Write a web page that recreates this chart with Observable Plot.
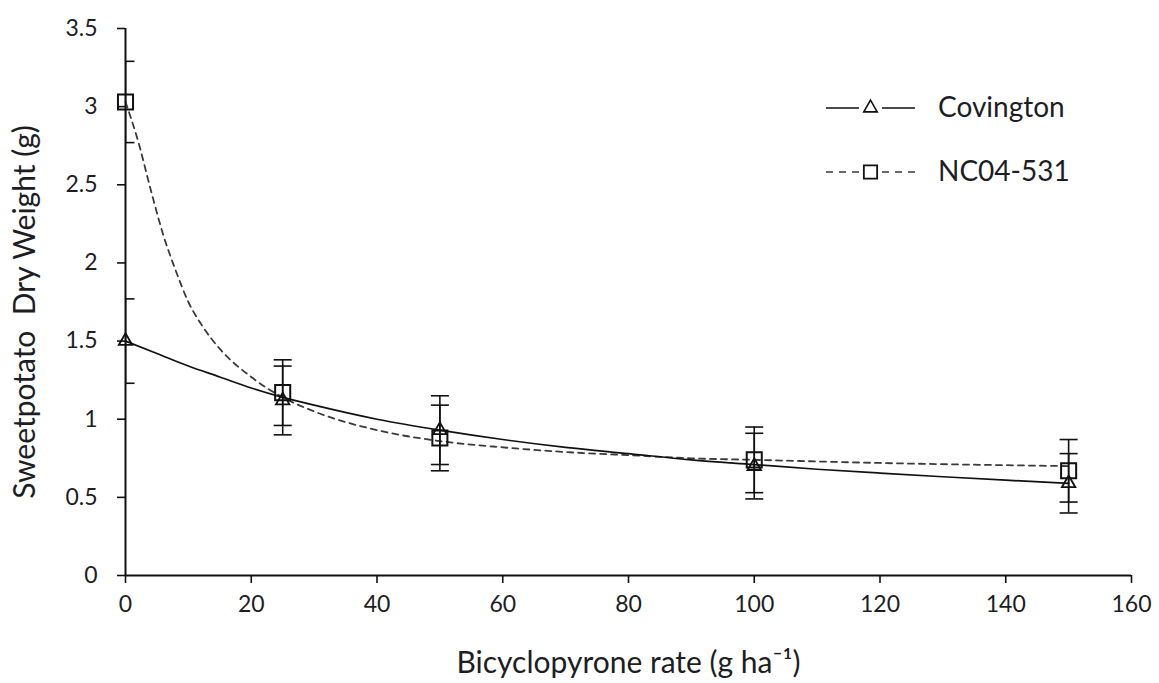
<!DOCTYPE html>
<html>
<head>
<meta charset="utf-8">
<script src="https://cdn.jsdelivr.net/npm/d3@7"></script>
<script src="https://cdn.jsdelivr.net/npm/@observablehq/plot@0.6"></script>
<style>
  html, body { margin: 0; padding: 0; background: #fff; }
  #wrap { position: relative; width: 1159px; height: 683px; }
  #legend { position: absolute; left: 0; top: 0; pointer-events: none; }
</style>
</head>
<body>
<div id="wrap"></div>
<script>
// ---- data ----
const rates = [0, 25, 50, 100, 150];
const covMean = [1.50, 1.12, 0.93, 0.70, 0.59];
const covErr  = [0.27, 0.22, 0.22, 0.21, 0.19];
const ncMean  = [3.03, 1.17, 0.88, 0.74, 0.67];
const ncErr   = [0.26, 0.21, 0.21, 0.21, 0.20];

// fitted curves
const covCurveX = [0, 5, 10, 15, 20, 25, 30, 40, 50, 60, 70, 80, 90, 100, 110, 120, 130, 140, 150];
const covCurveY = [1.50, 1.42, 1.34, 1.27, 1.20, 1.14, 1.09, 1.00, 0.93, 0.87, 0.82, 0.78, 0.74, 0.71, 0.68, 0.655, 0.632, 0.61, 0.59];
const ncCurveX = [0, 2, 4, 6, 8, 10, 12, 15, 20, 25, 30, 40, 50, 60, 70, 80, 90, 100, 120, 150];
const ncCurveY = [3.03, 2.78, 2.47, 2.18, 1.95, 1.75, 1.61, 1.45, 1.27, 1.14, 1.05, 0.93, 0.86, 0.82, 0.79, 0.77, 0.75, 0.74, 0.72, 0.70];

const xTicks = [0, 20, 40, 60, 80, 100, 120, 140, 160];
const yTicks = [0, 0.5, 1, 1.5, 2, 2.5, 3, 3.5];
const yTickLabels = ["0", "0.5", "1", "1.5", "2", "2.5", "3", "3.5"];
const seriesNames = ["Covington", "NC04-531"];
const xTitle = "Bicyclopyrone rate (g ha\u207B\u00B9)";
const yTitle = "Sweetpotato\u00A0 Dry Weight (g)";

// ---- build tables ----
const cov = rates.map((r, i) => ({x: r, y: covMean[i], lo: covMean[i] - covErr[i], hi: covMean[i] + covErr[i]}));
const nc  = rates.map((r, i) => ({x: r, y: ncMean[i],  lo: ncMean[i] - ncErr[i],  hi: ncMean[i] + ncErr[i]}));
const caps = [...cov, ...nc].flatMap(d => [{x: d.x, y: d.lo}, {x: d.x, y: d.hi}]);
const covCurve = covCurveX.map((x, i) => ({x, y: covCurveY[i]}));
const ncCurve  = ncCurveX.map((x, i) => ({x, y: ncCurveY[i]}));

const capSymbol = {draw(ctx, size) { const w = Math.sqrt(size / Math.PI); ctx.moveTo(-w, 0); ctx.lineTo(w, 0); }};

const FONT = "Lato, 'Open Sans', sans-serif";
const TXT = "#1d1d24";

const chart = Plot.plot({
  width: 1159,
  height: 683,
  marginLeft: 125,
  marginRight: 28,
  marginTop: 28,
  marginBottom: 108,
  style: {fontFamily: FONT, fontSize: "23px", color: TXT, background: "#fff", overflow: "visible"},
  x: {domain: [0, 160]},
  y: {domain: [0, 3.5]},
  marks: [
    Plot.axisX({ticks: xTicks, tickSize: 8, tickPadding: 12, tickFormat: d => String(d),
      stroke: "#111", strokeWidth: 1.6, fill: TXT, label: xTitle, labelAnchor: "center", labelArrow: "none", labelOffset: 97}),
    Plot.axisY({ticks: yTicks, tickSize: 8, tickPadding: 20, tickFormat: d => yTickLabels[yTicks.indexOf(d)],
      stroke: "#111", strokeWidth: 1.6, fill: TXT, label: yTitle, labelAnchor: "center", labelArrow: "none", labelOffset: 112}),
    Plot.ruleX([0], {stroke: "#111", strokeWidth: 2}),
    Plot.ruleY([0], {stroke: "#111", strokeWidth: 2}),
    Plot.line(ncCurve, {x: "x", y: "y", curve: "monotone-x", stroke: "#3a3a3a", strokeWidth: 1.8, strokeDasharray: "6,5"}),
    Plot.line(covCurve, {x: "x", y: "y", curve: "monotone-x", stroke: "#111", strokeWidth: 1.7}),
    Plot.ruleX(cov, {x: "x", y1: "lo", y2: "hi", stroke: "#111", strokeWidth: 1.6, clip: true}),
    Plot.ruleX(nc, {x: "x", y1: "lo", y2: "hi", stroke: "#111", strokeWidth: 1.6, clip: true}),
    Plot.dot(caps, {x: "x", y: "y", symbol: capSymbol, r: 9, stroke: "#111", strokeWidth: 1.6, fill: "none", clip: true}),
    Plot.dot(nc, {x: "x", y: "y", symbol: "square", r: 8.5, stroke: "#111", strokeWidth: 2, fill: "none"}),
    Plot.dot(cov, {x: "x", y: "y", symbol: "triangle", r: 5, stroke: "#111", strokeWidth: 1.8, fill: "none"})
  ]
});
document.getElementById("wrap").appendChild(chart);
d3.select(chart).selectAll('g[aria-label="x-axis label"] text').style("font-size", "30px");
d3.select(chart).selectAll('g[aria-label="y-axis label"] text').style("font-size", "30px");
d3.select(chart).selectAll('g[aria-label="y-axis label"]').attr("transform", function() {
  return "translate(0,10) " + (this.getAttribute("transform") || "");
});

// ---- legend overlay ----
const lg = d3.select("#wrap").append("svg").attr("id", "legend").attr("width", 1159).attr("height", 683)
  .style("font-family", FONT).style("font-size", "28px");
const items = [
  {name: seriesNames[0], y: 108, dash: null, sym: d3.symbolTriangle, size: 5 * 5 * Math.PI, sw: 1.6},
  {name: seriesNames[1], y: 172, dash: "7,6", sym: d3.symbolSquare, size: 7.5 * 7.5 * Math.PI, sw: 1.8}
];
for (const it of items) {
  const g = lg.append("g");
  const l1 = g.append("line").attr("x1", 826).attr("x2", 859).attr("y1", it.y).attr("y2", it.y).attr("stroke", "#111").attr("stroke-width", 1.6);
  const l2 = g.append("line").attr("x1", 882).attr("x2", 915).attr("y1", it.y).attr("y2", it.y).attr("stroke", "#111").attr("stroke-width", 1.6);
  if (it.dash) { l1.attr("stroke-dasharray", it.dash).attr("stroke", "#3a3a3a"); l2.attr("stroke-dasharray", it.dash).attr("stroke", "#3a3a3a"); }
  g.append("path").attr("d", d3.symbol(it.sym, it.size)()).attr("transform", `translate(870.5,${it.y})`)
    .attr("fill", "none").attr("stroke", "#111").attr("stroke-width", it.sw);
  g.append("text").attr("x", 938).attr("y", it.y + 9).attr("fill", TXT).text(it.name);
}
</script>
</body>
</html>
